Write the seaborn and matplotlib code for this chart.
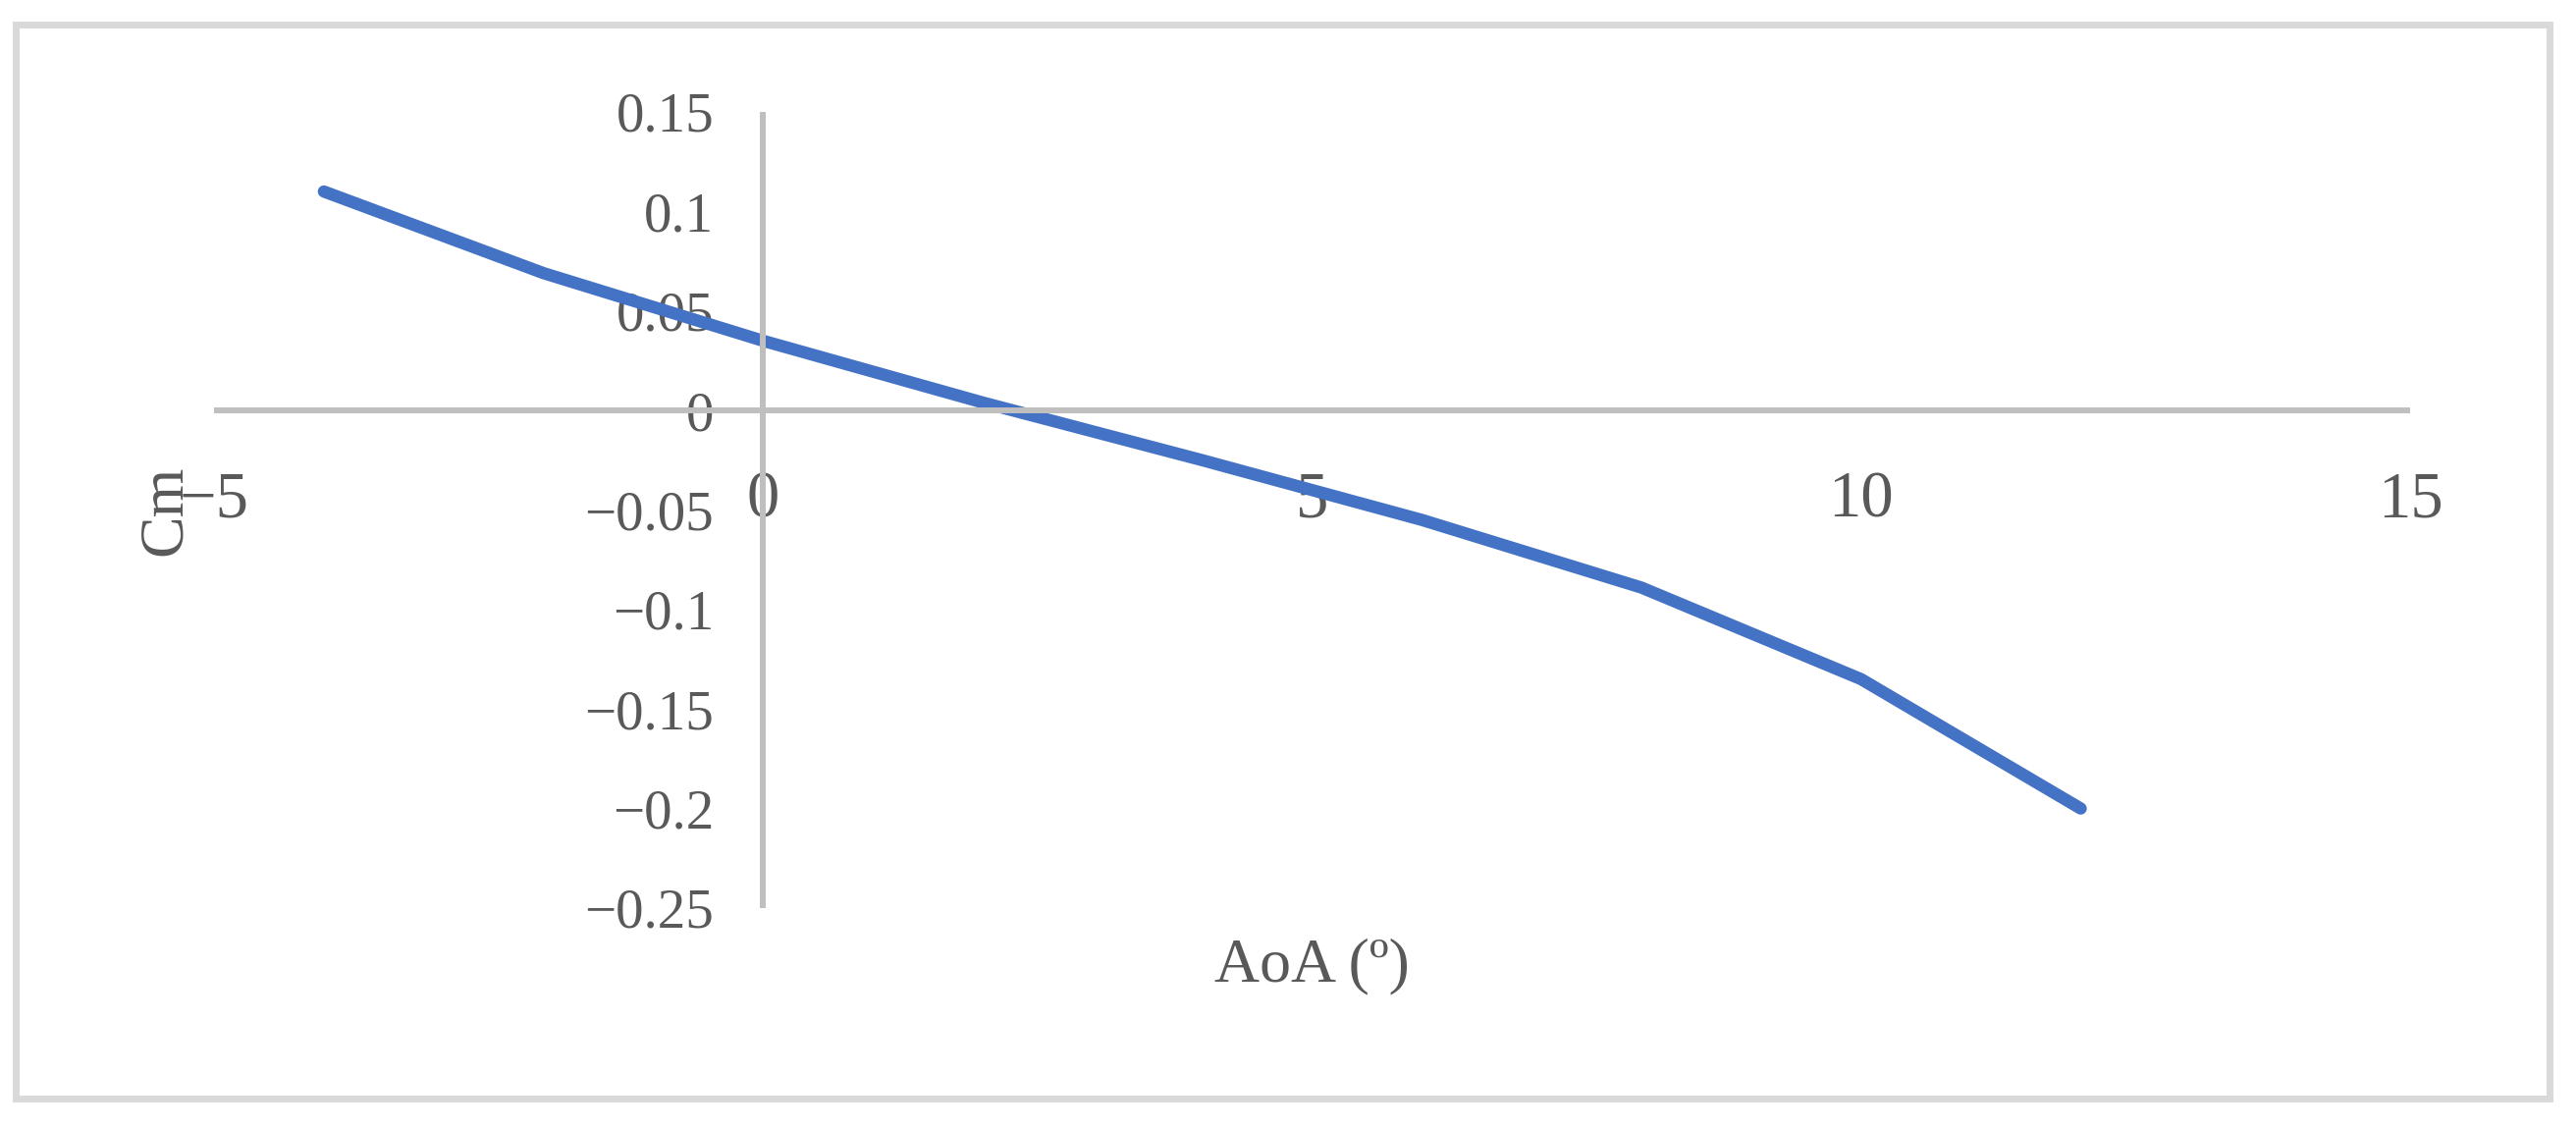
import matplotlib
matplotlib.use('Agg')
import matplotlib.pyplot as plt
import seaborn as sns
from matplotlib.patches import Rectangle

# values
aoa = [-4, -2, 0, 2, 4, 6, 8, 10, 12]
cm = [0.110, 0.069, 0.035, 0.004, -0.025, -0.055, -0.089, -0.135, -0.200]

x_ticks = [-5, 0, 5, 10, 15]
y_ticks = [-0.25, -0.2, -0.15, -0.1, -0.05, 0, 0.05, 0.1, 0.15]


def fmt(v):
    return '{:g}'.format(v).replace('-', '\u2212')


sns.set_style('white')
plt.rcParams['font.family'] = ['Liberation Serif', 'DejaVu Serif']

grey_txt = '#595959'
axis_col = '#BFBFBF'

fig = plt.figure(figsize=(26.24, 11.49), dpi=100)
ax = fig.add_axes([0.0831, 0.1950, 0.8525, 0.7058])

sns.lineplot(x=aoa, y=cm, ax=ax, color='#4472C4', linewidth=9,
             solid_capstyle='round', solid_joinstyle='round')

ax.set_xlim(-5, 15)
ax.set_ylim(-0.25, 0.15)
ax.set_xticks(x_ticks)
ax.set_xticklabels([fmt(v) for v in x_ticks])
ax.set_yticks(y_ticks)
ax.set_yticklabels([fmt(v) for v in y_ticks])

for s in ['top', 'right']:
    ax.spines[s].set_visible(False)
for s in ['left', 'bottom']:
    ax.spines[s].set_position(('data', 0))
    ax.spines[s].set_color(axis_col)
    ax.spines[s].set_linewidth(4.3)
    ax.spines[s].set_capstyle('butt')

ax.tick_params(axis='x', length=0, pad=44, labelsize=48, labelcolor=grey_txt)
ax.tick_params(axis='y', length=0, pad=36, labelsize=41, labelcolor=grey_txt)

ax.set_xlabel('AoA (º)', fontsize=46, color=grey_txt, va='center')
ax.xaxis.set_label_coords(0.5, -0.073)
ax.set_ylabel('Cm', fontsize=46, color=grey_txt, va='center', ha='center')
ax.yaxis.set_label_coords(-0.022, 0.5)

# outer chart frame
fig.patches.append(Rectangle((0.0061, 0.0265), 0.9836, 0.9516,
                             transform=fig.transFigure, fill=False,
                             edgecolor='#D9D9D9', linewidth=5))

fig.savefig('out.png', dpi=100)
